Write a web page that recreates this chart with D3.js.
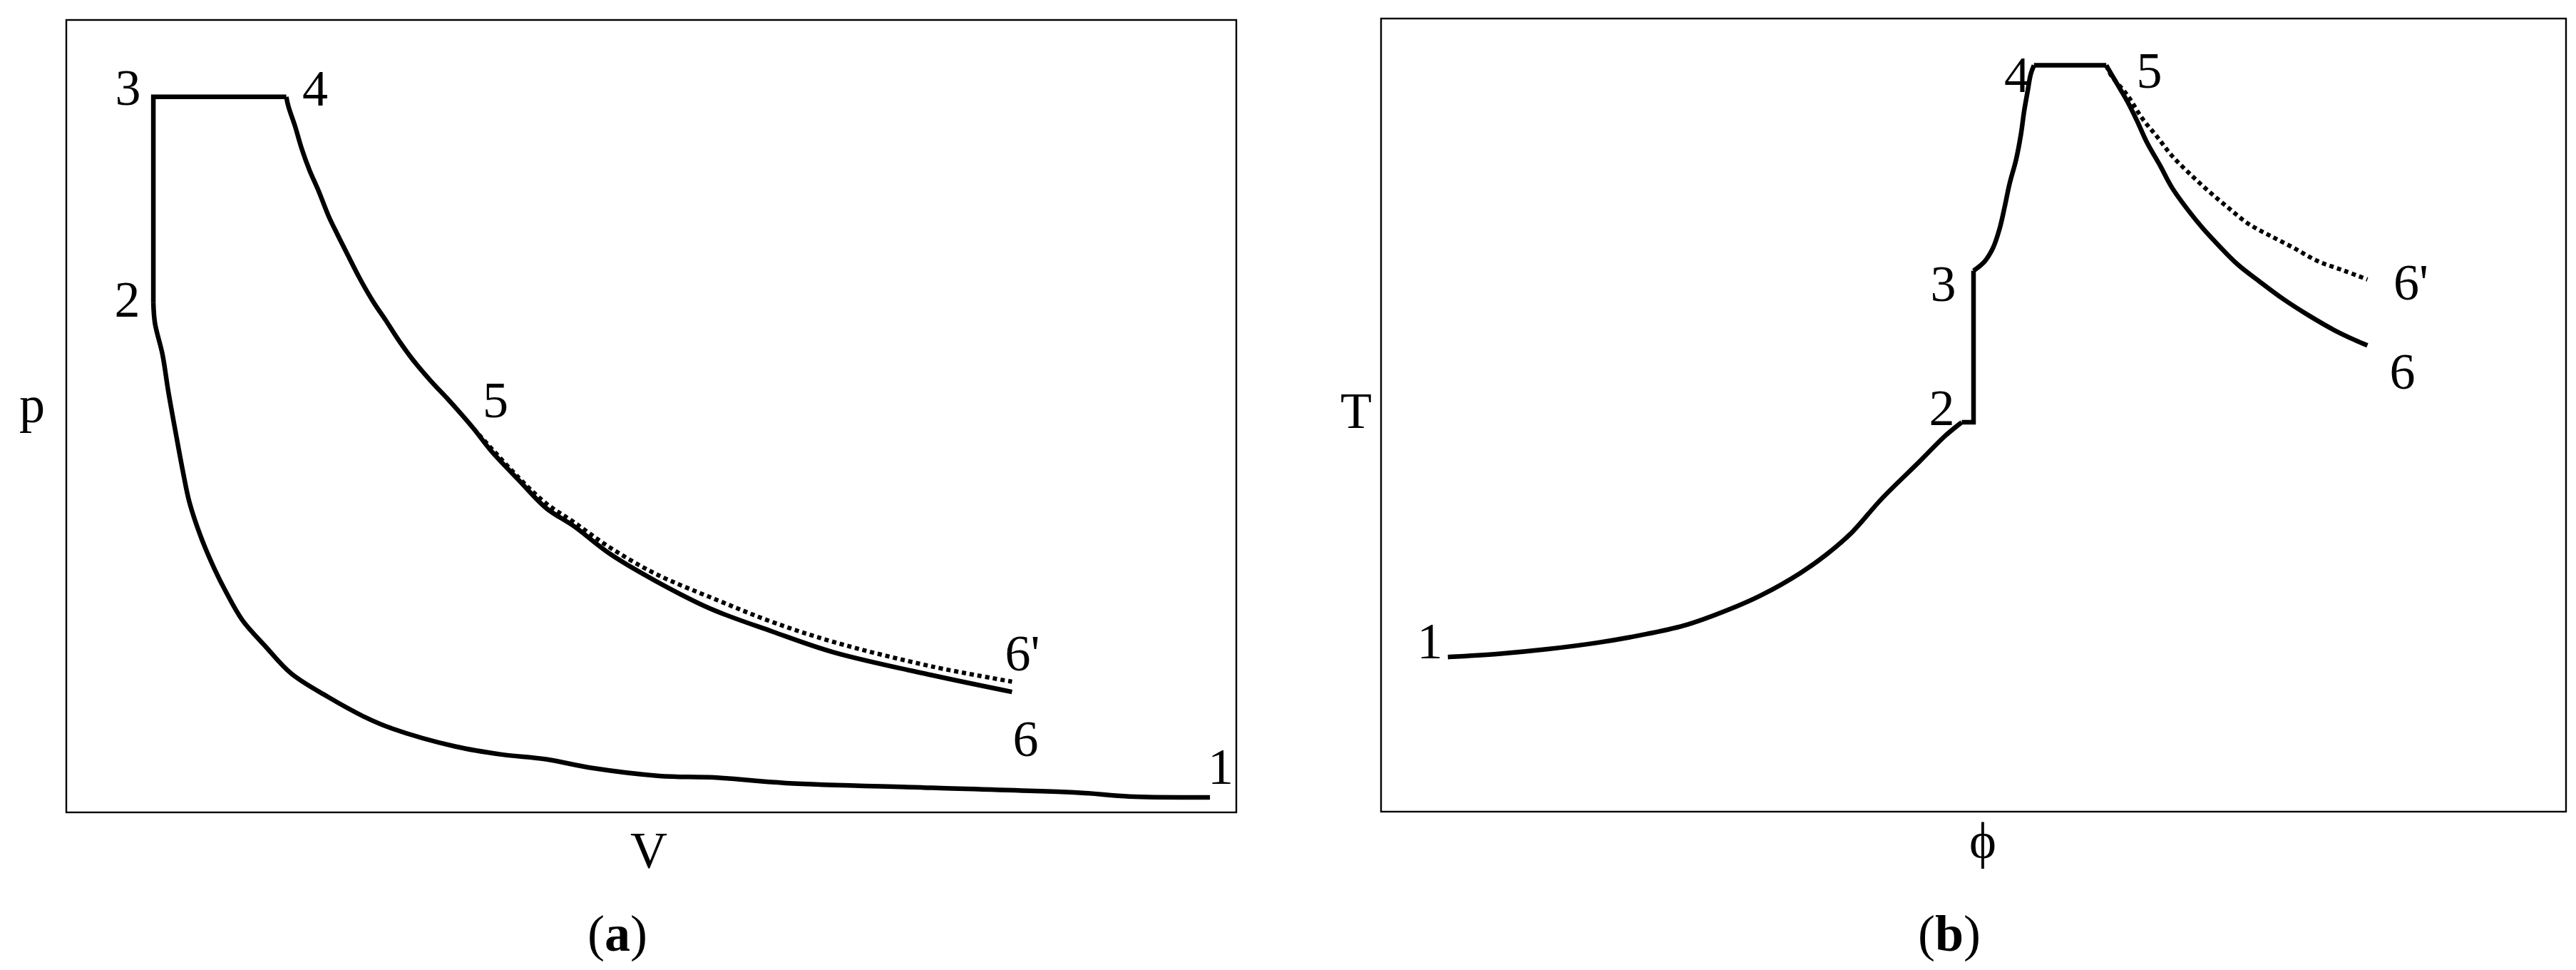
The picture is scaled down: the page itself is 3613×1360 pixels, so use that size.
<!DOCTYPE html>
<html>
<head>
    <title>p-V and T-phi diagrams</title>
    <script src="https://d3js.org/d3.v7.min.js"></script>
    <style>
        body { margin: 0; background: #fff; }
        svg { display: block; }
        text { font-family: "Liberation Serif", "Times New Roman", serif; fill: #000; }
    </style>
</head>
<body>
    <svg id="chart" width="3613" height="1360"></svg>

    <script>
        // ---- panel (a): p-V diagram, values in relative units (0-100) ----
        // compression 1 -> 2, listed from 2 down to 1
        var pvCompression = [
            [7.44, 64.3], [7.58, 61.7], [8.22, 57.8], [8.71, 53.2], [9.34, 48.0],
            [9.97, 43.0], [10.53, 39.1], [11.52, 34.7], [12.64, 30.8], [13.62, 27.9],
            [15.03, 24.3], [16.99, 21.0], [19.24, 17.5], [22.33, 14.6], [25.42, 12.1],
            [27.81, 10.6], [33.29, 8.3], [37.22, 7.3], [41.01, 6.7], [44.94, 5.6],
            [50.70, 4.6], [55.34, 4.4], [61.52, 3.7], [74.02, 3.1], [86.38, 2.5],
            [90.87, 2.0], [97.75, 1.9]
        ];
        // 2 -> 3 (isochoric) and 3 -> 4 (isobaric)
        var pvHeat = [[7.44, 64.3], [7.44, 90.3], [18.8, 90.3]];
        // expansion 4 -> 5 -> 6
        var pvExpansion = [
            [18.8, 90.3], [19.00, 89.0], [19.55, 86.6], [20.11, 83.8], [20.77, 81.1],
            [21.57, 78.4], [22.43, 75.2], [23.22, 72.8], [24.07, 70.3], [25.11, 67.3],
            [26.21, 64.5], [27.30, 62.1], [28.40, 59.6], [29.63, 57.1], [31.18, 54.4],
            [32.58, 52.2], [33.85, 50.1], [34.83, 48.4], [36.38, 45.5], [38.69, 41.9],
            [41.01, 38.4], [43.40, 36.1], [46.49, 32.6], [50.37, 29.2], [55.06, 25.7],
            [60.39, 22.8], [65.59, 20.2], [74.02, 17.3], [80.83, 15.2]
        ];
        // expansion 5 -> 6'
        var pvExpansionIdeal = [
            [34.83, 48.4], [38.69, 42.2], [41.01, 39.0], [43.40, 36.6], [46.49, 33.4],
            [50.37, 30.1], [55.62, 26.8], [60.39, 24.0], [65.59, 21.5], [74.02, 18.4],
            [80.83, 16.5]
        ];
        var pvLabels = [
            ["3", 5.27, 89.3], ["4", 21.27, 89.2], ["2", 5.21, 62.6], ["5", 36.68, 49.9],
            ["6'", 81.72, 17.9], ["6", 81.99, 7.1], ["1", 98.66, 3.6]
        ];

        // ---- panel (b): T-phi diagram, values in relative units (0-100) ----
        var tfCompression = [
            [5.64, 19.5], [9.93, 19.9], [14.09, 20.5], [18.25, 21.3], [22.41, 22.4],
            [25.87, 23.6], [30.03, 25.9], [32.10, 27.3], [35.29, 30.0], [37.65, 32.5],
            [39.73, 35.2], [42.22, 39.4], [45.41, 44.1], [47.62, 47.4], [49.01, 49.1]
        ];
        var tfIsochoric = [[49.01, 49.1], [50.0, 49.1], [50.0, 68.2]];
        var tfCombustion = [
            [50.0, 68.2], [50.95, 69.4], [51.65, 71.1], [52.20, 73.5], [52.62, 76.2],
            [53.03, 79.1], [53.59, 82.2], [54.00, 85.4], [54.27, 88.3], [54.55, 90.7],
            [54.83, 93.0], [55.10, 94.1]
        ];
        var tfIsobaric = [[55.10, 94.1], [61.2, 94.1]];
        var tfExpansion = [
            [61.2, 94.1], [62.02, 92.0], [63.00, 89.5], [63.83, 87.0], [64.66, 84.3],
            [65.77, 81.4], [66.74, 78.7], [68.13, 75.8], [69.38, 73.5], [70.62, 71.5],
            [72.29, 69.0], [74.09, 66.9], [76.17, 64.6], [78.25, 62.6], [80.46, 60.7],
            [82.13, 59.5], [83.24, 58.8]
        ];
        var tfExpansionIdeal = [
            [61.2, 94.1], [61.63, 92.8], [63.00, 90.3], [64.24, 87.4], [65.49, 85.1],
            [66.74, 82.7], [68.13, 80.6], [69.79, 78.3], [71.45, 76.2], [73.12, 74.2],
            [74.92, 72.7], [77.00, 71.1], [79.07, 69.4], [81.29, 68.2], [83.24, 67.1]
        ];
        var tfLabels = [
            ["4", 53.67, 90.7], ["5", 64.83, 91.3], ["3", 47.44, 64.4], ["2", 47.32, 48.7],
            ["6'", 86.91, 64.6], ["6", 86.19, 53.3], ["1", 4.12, 19.3]
        ];

        var svg = d3.select("#chart");
        svg.append("rect").attr("width", 3613).attr("height", 1360).attr("fill", "#fff");

        function drawPanel(opt) {
            var x = d3.scaleLinear().domain([0, 100]).range([opt.left, opt.right]);
            var y = d3.scaleLinear().domain([0, 100]).range([opt.bottom, opt.top]);
            var g = svg.append("g");

            g.append("rect")
                .attr("x", opt.left).attr("y", opt.top)
                .attr("width", opt.right - opt.left).attr("height", opt.bottom - opt.top)
                .attr("fill", "none").attr("stroke", "#000").attr("stroke-width", 2.4);

            var straight = d3.line().x(function(d) { return x(d[0]); }).y(function(d) { return y(d[1]); });
            var smooth = d3.line().curve(d3.curveCatmullRom.alpha(0.5))
                .x(function(d) { return x(d[0]); }).y(function(d) { return y(d[1]); });

            opt.straight.forEach(function(s) {
                g.append("path").datum(s).attr("d", straight)
                    .attr("fill", "none").attr("stroke", "#000")
                    .attr("stroke-width", 6.5).attr("stroke-linejoin", "miter");
            });
            opt.curved.forEach(function(s) {
                g.append("path").datum(s).attr("d", smooth)
                    .attr("fill", "none").attr("stroke", "#000")
                    .attr("stroke-width", 6.5).attr("stroke-linejoin", "round");
            });
            g.append("path").datum(opt.dotted).attr("d", smooth)
                .attr("fill", "none").attr("stroke", "#000")
                .attr("stroke-width", 6).attr("stroke-dasharray", "6,5");

            g.selectAll("text.pt").data(opt.labels).enter().append("text")
                .attr("class", "pt")
                .attr("x", function(d) { return x(d[1]); })
                .attr("y", function(d) { return y(d[2]); })
                .attr("text-anchor", "middle")
                .attr("font-size", 72)
                .text(function(d) { return d[0]; });

            g.append("text").attr("x", opt.yTitle[1]).attr("y", opt.yTitle[2])
                .attr("text-anchor", "middle").attr("font-size", 72).text(opt.yTitle[0]);
            g.append("text").attr("x", opt.xTitle[1]).attr("y", opt.xTitle[2])
                .attr("text-anchor", "middle").attr("font-size", 72).text(opt.xTitle[0]);

            var cap = g.append("text").attr("x", opt.caption[1]).attr("y", opt.caption[2])
                .attr("text-anchor", "middle").attr("font-size", 72);
            cap.append("tspan").text("(");
            cap.append("tspan").attr("font-weight", "bold").text(opt.caption[0]);
            cap.append("tspan").text(")");
        }

        drawPanel({
            left: 93, right: 1734, top: 28, bottom: 1139,
            straight: [pvHeat],
            curved: [pvCompression, pvExpansion],
            dotted: pvExpansionIdeal,
            labels: pvLabels,
            yTitle: ["p", 45, 592],
            xTitle: ["V", 910, 1216],
            caption: ["a", 866, 1333]
        });

        drawPanel({
            left: 1937, right: 3599, top: 26, bottom: 1138,
            straight: [tfIsochoric, tfIsobaric],
            curved: [tfCompression, tfCombustion, tfExpansion],
            dotted: tfExpansionIdeal,
            labels: tfLabels,
            yTitle: ["T", 1902, 600],
            xTitle: ["\u03D5", 2781, 1203],
            caption: ["b", 2734, 1333]
        });
    </script>
</body>
</html>
